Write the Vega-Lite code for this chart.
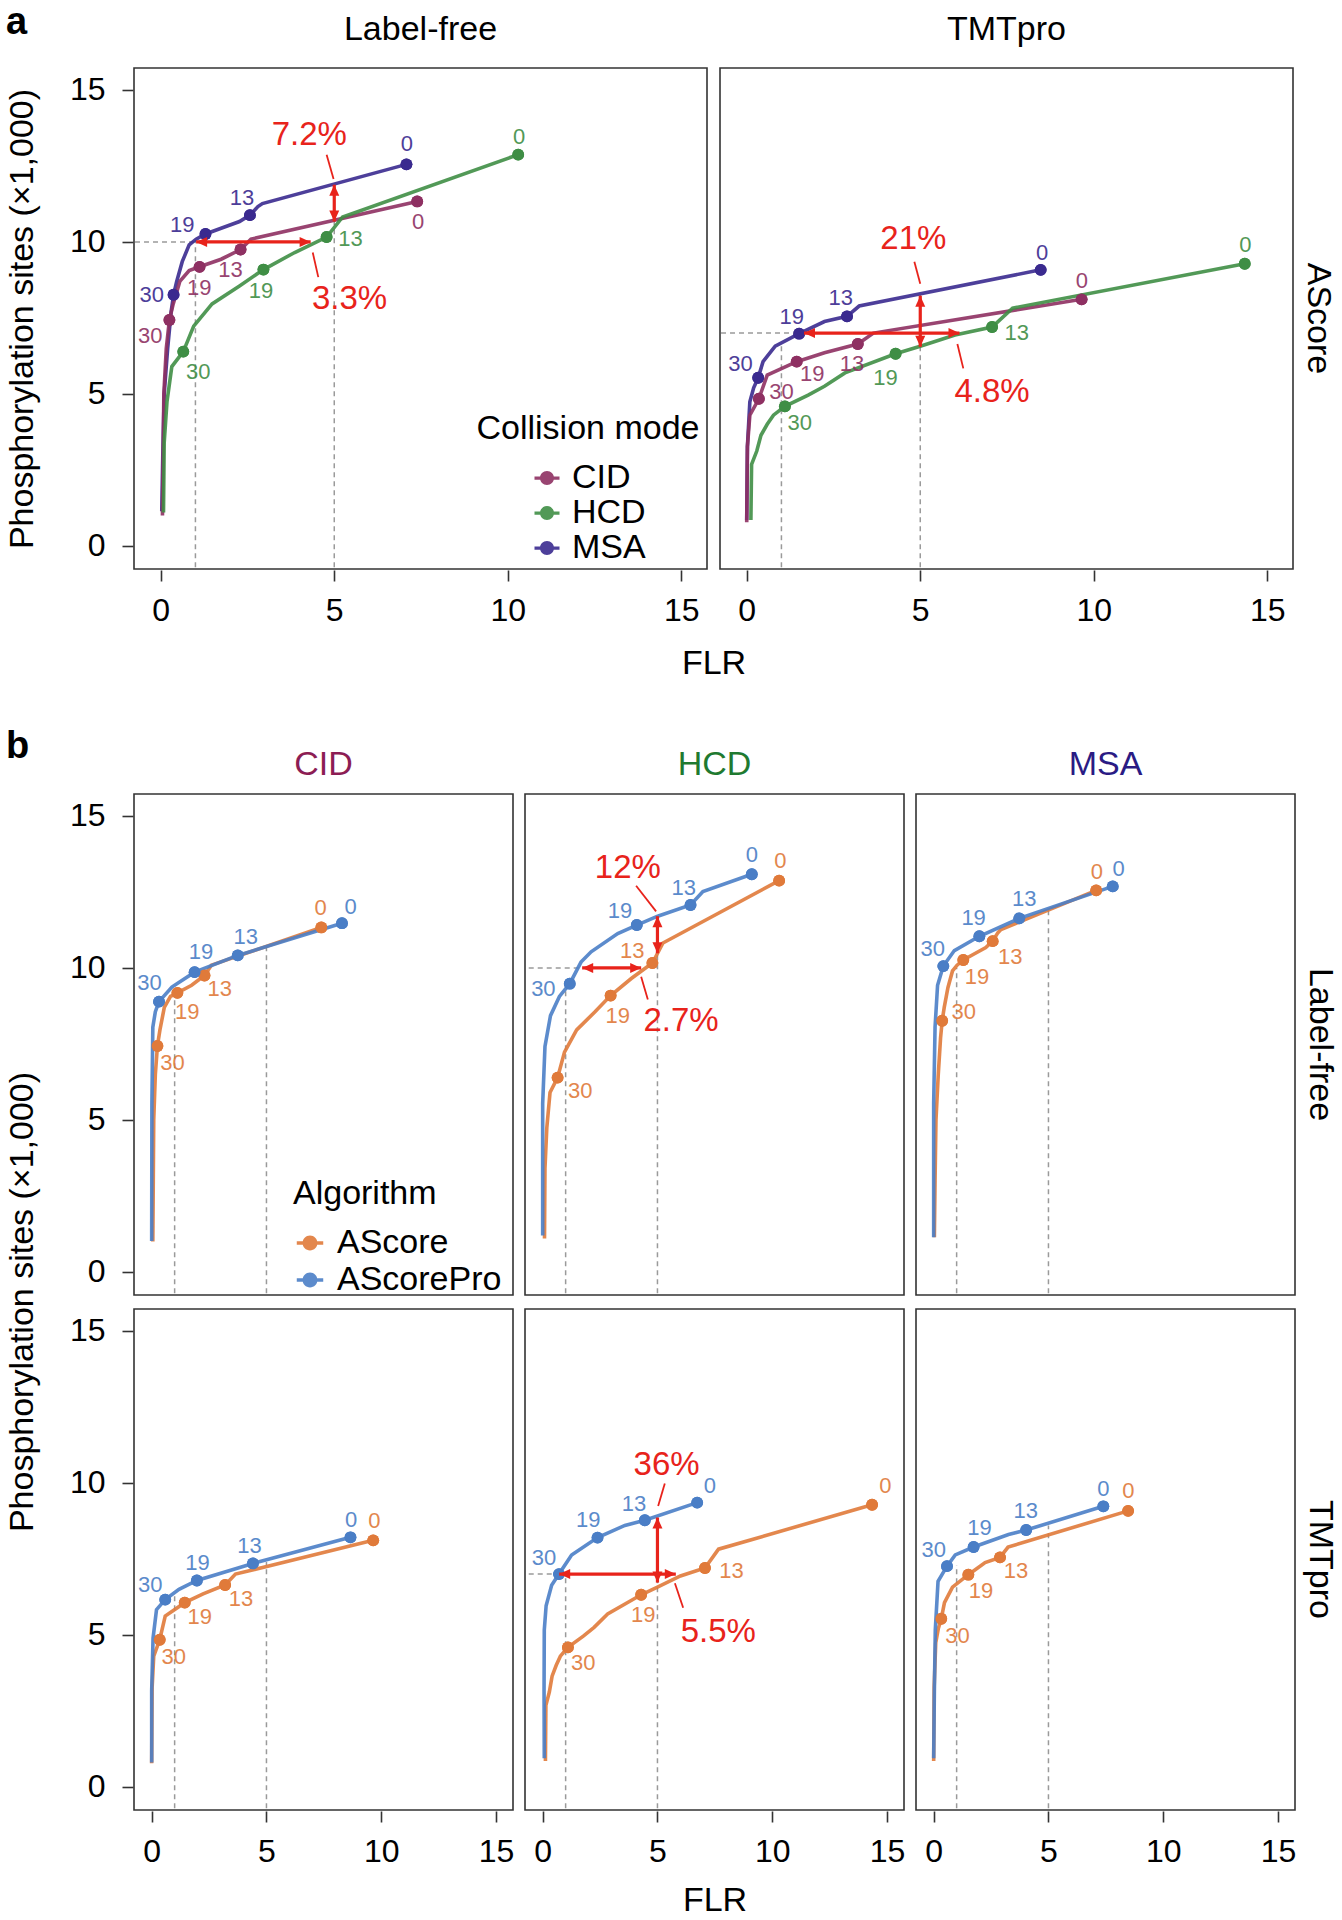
{
"$schema": "https://vega.github.io/schema/vega-lite/v6.json",
"padding": {"left": 5, "top": 4, "right": 0, "bottom": 0},
"config": {
  "font": "Liberation Sans",
  "view": {"stroke": "#333333", "strokeWidth": 1.6},
  "axis": {"grid": false, "domain": false, "tickColor": "#333333", "tickWidth": 1.6, "tickSize": 11, "labelFontSize": 32, "labelColor": "#000000", "labelFlush": false, "labelOverlap": false},
  "axisX": {"labelPadding": 14},
  "axisY": {"labelPadding": 17}
},
"datasets": {
"a": [
{"lab":"Label-free","mode":"MSA","alg":"AScore","k":"c","i":0,"x":0.03,"y":1.14},
{"lab":"Label-free","mode":"MSA","alg":"AScore","k":"c","i":1,"x":0.06,"y":3.0},
{"lab":"Label-free","mode":"MSA","alg":"AScore","k":"c","i":2,"x":0.1,"y":5.0},
{"lab":"Label-free","mode":"MSA","alg":"AScore","k":"c","i":3,"x":0.2,"y":6.5},
{"lab":"Label-free","mode":"MSA","alg":"AScore","k":"c","i":4,"x":0.3,"y":7.7},
{"lab":"Label-free","mode":"MSA","alg":"AScore","k":"c","i":5,"x":0.37,"y":8.26},
{"lab":"Label-free","mode":"MSA","alg":"AScore","k":"c","i":6,"x":0.46,"y":8.7},
{"lab":"Label-free","mode":"MSA","alg":"AScore","k":"c","i":7,"x":0.62,"y":9.35},
{"lab":"Label-free","mode":"MSA","alg":"AScore","k":"c","i":8,"x":0.82,"y":9.9},
{"lab":"Label-free","mode":"MSA","alg":"AScore","k":"c","i":9,"x":1.02,"y":10.09},
{"lab":"Label-free","mode":"MSA","alg":"AScore","k":"c","i":10,"x":1.29,"y":10.26},
{"lab":"Label-free","mode":"MSA","alg":"AScore","k":"c","i":11,"x":1.74,"y":10.45},
{"lab":"Label-free","mode":"MSA","alg":"AScore","k":"c","i":12,"x":2.27,"y":10.67},
{"lab":"Label-free","mode":"MSA","alg":"AScore","k":"c","i":13,"x":2.57,"y":10.88},
{"lab":"Label-free","mode":"MSA","alg":"AScore","k":"c","i":14,"x":2.8,"y":11.16},
{"lab":"Label-free","mode":"MSA","alg":"AScore","k":"c","i":15,"x":2.93,"y":11.26},
{"lab":"Label-free","mode":"MSA","alg":"AScore","k":"c","i":16,"x":7.08,"y":12.55},
{"lab":"Label-free","mode":"CID","alg":"AScore","k":"c","i":0,"x":0.05,"y":1.0},
{"lab":"Label-free","mode":"CID","alg":"AScore","k":"c","i":1,"x":0.07,"y":3.0},
{"lab":"Label-free","mode":"CID","alg":"AScore","k":"c","i":2,"x":0.09,"y":5.0},
{"lab":"Label-free","mode":"CID","alg":"AScore","k":"c","i":3,"x":0.16,"y":6.5},
{"lab":"Label-free","mode":"CID","alg":"AScore","k":"c","i":4,"x":0.25,"y":7.43},
{"lab":"Label-free","mode":"CID","alg":"AScore","k":"c","i":5,"x":0.36,"y":7.96},
{"lab":"Label-free","mode":"CID","alg":"AScore","k":"c","i":6,"x":0.55,"y":8.7},
{"lab":"Label-free","mode":"CID","alg":"AScore","k":"c","i":7,"x":0.82,"y":9.06},
{"lab":"Label-free","mode":"CID","alg":"AScore","k":"c","i":8,"x":1.12,"y":9.18},
{"lab":"Label-free","mode":"CID","alg":"AScore","k":"c","i":9,"x":1.74,"y":9.43},
{"lab":"Label-free","mode":"CID","alg":"AScore","k":"c","i":10,"x":2.3,"y":9.75},
{"lab":"Label-free","mode":"CID","alg":"AScore","k":"c","i":11,"x":2.6,"y":10.09},
{"lab":"Label-free","mode":"CID","alg":"AScore","k":"c","i":12,"x":7.39,"y":11.33},
{"lab":"Label-free","mode":"HCD","alg":"AScore","k":"c","i":0,"x":0.08,"y":1.1},
{"lab":"Label-free","mode":"HCD","alg":"AScore","k":"c","i":1,"x":0.1,"y":3.4},
{"lab":"Label-free","mode":"HCD","alg":"AScore","k":"c","i":2,"x":0.18,"y":4.74},
{"lab":"Label-free","mode":"HCD","alg":"AScore","k":"c","i":3,"x":0.32,"y":5.9},
{"lab":"Label-free","mode":"HCD","alg":"AScore","k":"c","i":4,"x":0.65,"y":6.39},
{"lab":"Label-free","mode":"HCD","alg":"AScore","k":"c","i":5,"x":0.95,"y":7.23},
{"lab":"Label-free","mode":"HCD","alg":"AScore","k":"c","i":6,"x":1.48,"y":7.96},
{"lab":"Label-free","mode":"HCD","alg":"AScore","k":"c","i":7,"x":2.27,"y":8.55},
{"lab":"Label-free","mode":"HCD","alg":"AScore","k":"c","i":8,"x":2.96,"y":9.09},
{"lab":"Label-free","mode":"HCD","alg":"AScore","k":"c","i":9,"x":3.86,"y":9.65},
{"lab":"Label-free","mode":"HCD","alg":"AScore","k":"c","i":10,"x":4.78,"y":10.16},
{"lab":"Label-free","mode":"HCD","alg":"AScore","k":"c","i":11,"x":5.24,"y":10.82},
{"lab":"Label-free","mode":"HCD","alg":"AScore","k":"c","i":12,"x":10.3,"y":12.87},
{"lab":"TMTpro","mode":"MSA","alg":"AScore","k":"c","i":0,"x":0.0,"y":0.85},
{"lab":"TMTpro","mode":"MSA","alg":"AScore","k":"c","i":1,"x":0.02,"y":3.27},
{"lab":"TMTpro","mode":"MSA","alg":"AScore","k":"c","i":2,"x":0.09,"y":4.74},
{"lab":"TMTpro","mode":"MSA","alg":"AScore","k":"c","i":3,"x":0.2,"y":5.2},
{"lab":"TMTpro","mode":"MSA","alg":"AScore","k":"c","i":4,"x":0.33,"y":5.53},
{"lab":"TMTpro","mode":"MSA","alg":"AScore","k":"c","i":5,"x":0.47,"y":6.06},
{"lab":"TMTpro","mode":"MSA","alg":"AScore","k":"c","i":6,"x":0.82,"y":6.57},
{"lab":"TMTpro","mode":"MSA","alg":"AScore","k":"c","i":7,"x":1.51,"y":6.98},
{"lab":"TMTpro","mode":"MSA","alg":"AScore","k":"c","i":8,"x":2.24,"y":7.38},
{"lab":"TMTpro","mode":"MSA","alg":"AScore","k":"c","i":9,"x":2.89,"y":7.55},
{"lab":"TMTpro","mode":"MSA","alg":"AScore","k":"c","i":10,"x":3.24,"y":7.89},
{"lab":"TMTpro","mode":"MSA","alg":"AScore","k":"c","i":11,"x":8.47,"y":9.08},
{"lab":"TMTpro","mode":"CID","alg":"AScore","k":"c","i":0,"x":0.0,"y":0.78},
{"lab":"TMTpro","mode":"CID","alg":"AScore","k":"c","i":1,"x":0.02,"y":3.27},
{"lab":"TMTpro","mode":"CID","alg":"AScore","k":"c","i":2,"x":0.09,"y":4.3},
{"lab":"TMTpro","mode":"CID","alg":"AScore","k":"c","i":3,"x":0.35,"y":4.84},
{"lab":"TMTpro","mode":"CID","alg":"AScore","k":"c","i":4,"x":0.59,"y":5.62},
{"lab":"TMTpro","mode":"CID","alg":"AScore","k":"c","i":5,"x":1.44,"y":6.06},
{"lab":"TMTpro","mode":"CID","alg":"AScore","k":"c","i":6,"x":2.24,"y":6.35},
{"lab":"TMTpro","mode":"CID","alg":"AScore","k":"c","i":7,"x":3.2,"y":6.64},
{"lab":"TMTpro","mode":"CID","alg":"AScore","k":"c","i":8,"x":3.65,"y":7.0},
{"lab":"TMTpro","mode":"CID","alg":"AScore","k":"c","i":9,"x":9.65,"y":8.11},
{"lab":"TMTpro","mode":"HCD","alg":"AScore","k":"c","i":0,"x":0.12,"y":0.85},
{"lab":"TMTpro","mode":"HCD","alg":"AScore","k":"c","i":1,"x":0.14,"y":2.68},
{"lab":"TMTpro","mode":"HCD","alg":"AScore","k":"c","i":2,"x":0.29,"y":3.12},
{"lab":"TMTpro","mode":"HCD","alg":"AScore","k":"c","i":3,"x":0.41,"y":3.64},
{"lab":"TMTpro","mode":"HCD","alg":"AScore","k":"c","i":4,"x":0.59,"y":4.0},
{"lab":"TMTpro","mode":"HCD","alg":"AScore","k":"c","i":5,"x":0.77,"y":4.3},
{"lab":"TMTpro","mode":"HCD","alg":"AScore","k":"c","i":6,"x":1.1,"y":4.59},
{"lab":"TMTpro","mode":"HCD","alg":"AScore","k":"c","i":7,"x":1.77,"y":4.96},
{"lab":"TMTpro","mode":"HCD","alg":"AScore","k":"c","i":8,"x":2.24,"y":5.25},
{"lab":"TMTpro","mode":"HCD","alg":"AScore","k":"c","i":9,"x":2.83,"y":5.69},
{"lab":"TMTpro","mode":"HCD","alg":"AScore","k":"c","i":10,"x":4.29,"y":6.32},
{"lab":"TMTpro","mode":"HCD","alg":"AScore","k":"c","i":11,"x":5.0,"y":6.57},
{"lab":"TMTpro","mode":"HCD","alg":"AScore","k":"c","i":12,"x":6.0,"y":6.94},
{"lab":"TMTpro","mode":"HCD","alg":"AScore","k":"c","i":13,"x":7.07,"y":7.2},
{"lab":"TMTpro","mode":"HCD","alg":"AScore","k":"c","i":14,"x":7.66,"y":7.82},
{"lab":"TMTpro","mode":"HCD","alg":"AScore","k":"c","i":15,"x":14.35,"y":9.28},
{"lab":"Label-free","mode":"MSA","alg":"AScore","k":"p","x":0.37,"y":8.26},
{"lab":"Label-free","mode":"MSA","alg":"AScore","k":"p","x":1.29,"y":10.26},
{"lab":"Label-free","mode":"MSA","alg":"AScore","k":"p","x":2.57,"y":10.88},
{"lab":"Label-free","mode":"MSA","alg":"AScore","k":"p","x":7.08,"y":12.55},
{"lab":"Label-free","mode":"CID","alg":"AScore","k":"p","x":0.25,"y":7.43},
{"lab":"Label-free","mode":"CID","alg":"AScore","k":"p","x":1.12,"y":9.18},
{"lab":"Label-free","mode":"CID","alg":"AScore","k":"p","x":2.3,"y":9.75},
{"lab":"Label-free","mode":"CID","alg":"AScore","k":"p","x":7.39,"y":11.33},
{"lab":"Label-free","mode":"HCD","alg":"AScore","k":"p","x":0.65,"y":6.39},
{"lab":"Label-free","mode":"HCD","alg":"AScore","k":"p","x":2.96,"y":9.09},
{"lab":"Label-free","mode":"HCD","alg":"AScore","k":"p","x":4.78,"y":10.16},
{"lab":"Label-free","mode":"HCD","alg":"AScore","k":"p","x":10.3,"y":12.87},
{"lab":"TMTpro","mode":"MSA","alg":"AScore","k":"p","x":0.33,"y":5.53},
{"lab":"TMTpro","mode":"MSA","alg":"AScore","k":"p","x":1.51,"y":6.98},
{"lab":"TMTpro","mode":"MSA","alg":"AScore","k":"p","x":2.89,"y":7.55},
{"lab":"TMTpro","mode":"MSA","alg":"AScore","k":"p","x":8.47,"y":9.08},
{"lab":"TMTpro","mode":"CID","alg":"AScore","k":"p","x":0.35,"y":4.84},
{"lab":"TMTpro","mode":"CID","alg":"AScore","k":"p","x":1.44,"y":6.06},
{"lab":"TMTpro","mode":"CID","alg":"AScore","k":"p","x":3.2,"y":6.64},
{"lab":"TMTpro","mode":"CID","alg":"AScore","k":"p","x":9.65,"y":8.11},
{"lab":"TMTpro","mode":"HCD","alg":"AScore","k":"p","x":1.1,"y":4.59},
{"lab":"TMTpro","mode":"HCD","alg":"AScore","k":"p","x":4.29,"y":6.32},
{"lab":"TMTpro","mode":"HCD","alg":"AScore","k":"p","x":7.07,"y":7.2},
{"lab":"TMTpro","mode":"HCD","alg":"AScore","k":"p","x":14.35,"y":9.28},
{"lab":"Label-free","mode":"MSA","alg":"AScore","k":"l","t":"0","x":7.09,"y":13.21},
{"lab":"Label-free","mode":"MSA","alg":"AScore","k":"l","t":"13","x":2.34,"y":11.44},
{"lab":"Label-free","mode":"MSA","alg":"AScore","k":"l","t":"19","x":0.62,"y":10.56},
{"lab":"Label-free","mode":"MSA","alg":"AScore","k":"l","t":"30","x":-0.26,"y":8.26},
{"lab":"Label-free","mode":"CID","alg":"AScore","k":"l","t":"0","x":7.42,"y":10.67},
{"lab":"Label-free","mode":"CID","alg":"AScore","k":"l","t":"13","x":2.01,"y":9.06},
{"lab":"Label-free","mode":"CID","alg":"AScore","k":"l","t":"19","x":1.11,"y":8.48},
{"lab":"Label-free","mode":"CID","alg":"AScore","k":"l","t":"30","x":-0.3,"y":6.91},
{"lab":"Label-free","mode":"HCD","alg":"AScore","k":"l","t":"0","x":10.33,"y":13.46},
{"lab":"Label-free","mode":"HCD","alg":"AScore","k":"l","t":"13","x":5.47,"y":10.09},
{"lab":"Label-free","mode":"HCD","alg":"AScore","k":"l","t":"19","x":2.89,"y":8.37},
{"lab":"Label-free","mode":"HCD","alg":"AScore","k":"l","t":"30","x":1.08,"y":5.73},
{"lab":"TMTpro","mode":"MSA","alg":"AScore","k":"l","t":"0","x":8.51,"y":9.65},
{"lab":"TMTpro","mode":"MSA","alg":"AScore","k":"l","t":"13","x":2.71,"y":8.14},
{"lab":"TMTpro","mode":"MSA","alg":"AScore","k":"l","t":"19","x":1.3,"y":7.52},
{"lab":"TMTpro","mode":"MSA","alg":"AScore","k":"l","t":"30","x":-0.18,"y":5.98},
{"lab":"TMTpro","mode":"CID","alg":"AScore","k":"l","t":"0","x":9.66,"y":8.7},
{"lab":"TMTpro","mode":"CID","alg":"AScore","k":"l","t":"13","x":3.03,"y":5.98},
{"lab":"TMTpro","mode":"CID","alg":"AScore","k":"l","t":"19","x":1.89,"y":5.65},
{"lab":"TMTpro","mode":"CID","alg":"AScore","k":"l","t":"30","x":1.0,"y":5.07},
{"lab":"TMTpro","mode":"HCD","alg":"AScore","k":"l","t":"0","x":14.37,"y":9.9},
{"lab":"TMTpro","mode":"HCD","alg":"AScore","k":"l","t":"13","x":7.78,"y":7.01},
{"lab":"TMTpro","mode":"HCD","alg":"AScore","k":"l","t":"19","x":4.0,"y":5.51},
{"lab":"TMTpro","mode":"HCD","alg":"AScore","k":"l","t":"30","x":1.53,"y":4.05},
{"lab":"Label-free","alg":"AScore","k":"g","x":1,"y":-1,"x2":1,"y2":10.05},
{"lab":"Label-free","alg":"AScore","k":"g","x":5,"y":-1,"x2":5,"y2":10.7},
{"lab":"Label-free","alg":"AScore","k":"g","x":-1,"y":10,"x2":1.0,"y2":10},
{"lab":"TMTpro","alg":"AScore","k":"g","x":1,"y":-1,"x2":1,"y2":6.6},
{"lab":"TMTpro","alg":"AScore","k":"g","x":5,"y":-1,"x2":5,"y2":8.26},
{"lab":"TMTpro","alg":"AScore","k":"g","x":-1,"y":7,"x2":1.5,"y2":7},
{"lab":"Label-free","alg":"AScore","k":"r","x":1.02,"y":10,"x2":4.32,"y2":10},
{"lab":"Label-free","alg":"AScore","k":"r","x":5,"y":10.67,"x2":5,"y2":11.88},
{"lab":"Label-free","alg":"AScore","k":"h","dir":"L","x":1.02,"y":10},
{"lab":"Label-free","alg":"AScore","k":"h","dir":"R","x":4.32,"y":10},
{"lab":"Label-free","alg":"AScore","k":"h","dir":"D","x":5,"y":10.67},
{"lab":"Label-free","alg":"AScore","k":"h","dir":"U","x":5,"y":11.88},
{"lab":"Label-free","alg":"AScore","k":"d","x":4.78,"y":12.87,"x2":4.98,"y2":12.07},
{"lab":"Label-free","alg":"AScore","k":"d","x":4.38,"y":9.65,"x2":4.54,"y2":8.84},
{"lab":"Label-free","alg":"AScore","k":"t","t":"7.2%","x":4.28,"y":13.53},
{"lab":"Label-free","alg":"AScore","k":"t","t":"3.3%","x":5.44,"y":8.11},
{"lab":"TMTpro","alg":"AScore","k":"r","x":1.65,"y":7,"x2":6.13,"y2":7},
{"lab":"TMTpro","alg":"AScore","k":"r","x":5,"y":6.55,"x2":5,"y2":8.23},
{"lab":"TMTpro","alg":"AScore","k":"h","dir":"L","x":1.65,"y":7},
{"lab":"TMTpro","alg":"AScore","k":"h","dir":"R","x":6.13,"y":7},
{"lab":"TMTpro","alg":"AScore","k":"h","dir":"D","x":5,"y":6.55},
{"lab":"TMTpro","alg":"AScore","k":"h","dir":"U","x":5,"y":8.23},
{"lab":"TMTpro","alg":"AScore","k":"d","x":4.83,"y":9.35,"x2":5.0,"y2":8.62},
{"lab":"TMTpro","alg":"AScore","k":"d","x":6.07,"y":6.64,"x2":6.24,"y2":5.84},
{"lab":"TMTpro","alg":"AScore","k":"t","t":"21%","x":4.8,"y":10.09},
{"lab":"TMTpro","alg":"AScore","k":"t","t":"4.8%","x":7.07,"y":5.06}
],
"b": [
{"lab":"Label-free","mode":"MSA","alg":"AScore","k":"c","i":0,"x":0.03,"y":1.14},
{"lab":"Label-free","mode":"MSA","alg":"AScore","k":"c","i":1,"x":0.06,"y":3.0},
{"lab":"Label-free","mode":"MSA","alg":"AScore","k":"c","i":2,"x":0.1,"y":5.0},
{"lab":"Label-free","mode":"MSA","alg":"AScore","k":"c","i":3,"x":0.2,"y":6.5},
{"lab":"Label-free","mode":"MSA","alg":"AScore","k":"c","i":4,"x":0.3,"y":7.7},
{"lab":"Label-free","mode":"MSA","alg":"AScore","k":"c","i":5,"x":0.37,"y":8.26},
{"lab":"Label-free","mode":"MSA","alg":"AScore","k":"c","i":6,"x":0.46,"y":8.7},
{"lab":"Label-free","mode":"MSA","alg":"AScore","k":"c","i":7,"x":0.62,"y":9.35},
{"lab":"Label-free","mode":"MSA","alg":"AScore","k":"c","i":8,"x":0.82,"y":9.9},
{"lab":"Label-free","mode":"MSA","alg":"AScore","k":"c","i":9,"x":1.02,"y":10.09},
{"lab":"Label-free","mode":"MSA","alg":"AScore","k":"c","i":10,"x":1.29,"y":10.26},
{"lab":"Label-free","mode":"MSA","alg":"AScore","k":"c","i":11,"x":1.74,"y":10.45},
{"lab":"Label-free","mode":"MSA","alg":"AScore","k":"c","i":12,"x":2.27,"y":10.67},
{"lab":"Label-free","mode":"MSA","alg":"AScore","k":"c","i":13,"x":2.57,"y":10.88},
{"lab":"Label-free","mode":"MSA","alg":"AScore","k":"c","i":14,"x":2.8,"y":11.16},
{"lab":"Label-free","mode":"MSA","alg":"AScore","k":"c","i":15,"x":2.93,"y":11.26},
{"lab":"Label-free","mode":"MSA","alg":"AScore","k":"c","i":16,"x":7.08,"y":12.55},
{"lab":"Label-free","mode":"CID","alg":"AScore","k":"c","i":0,"x":0.05,"y":1.0},
{"lab":"Label-free","mode":"CID","alg":"AScore","k":"c","i":1,"x":0.07,"y":3.0},
{"lab":"Label-free","mode":"CID","alg":"AScore","k":"c","i":2,"x":0.09,"y":5.0},
{"lab":"Label-free","mode":"CID","alg":"AScore","k":"c","i":3,"x":0.16,"y":6.5},
{"lab":"Label-free","mode":"CID","alg":"AScore","k":"c","i":4,"x":0.25,"y":7.43},
{"lab":"Label-free","mode":"CID","alg":"AScore","k":"c","i":5,"x":0.36,"y":7.96},
{"lab":"Label-free","mode":"CID","alg":"AScore","k":"c","i":6,"x":0.55,"y":8.7},
{"lab":"Label-free","mode":"CID","alg":"AScore","k":"c","i":7,"x":0.82,"y":9.06},
{"lab":"Label-free","mode":"CID","alg":"AScore","k":"c","i":8,"x":1.12,"y":9.18},
{"lab":"Label-free","mode":"CID","alg":"AScore","k":"c","i":9,"x":1.74,"y":9.43},
{"lab":"Label-free","mode":"CID","alg":"AScore","k":"c","i":10,"x":2.3,"y":9.75},
{"lab":"Label-free","mode":"CID","alg":"AScore","k":"c","i":11,"x":2.6,"y":10.09},
{"lab":"Label-free","mode":"CID","alg":"AScore","k":"c","i":12,"x":7.39,"y":11.33},
{"lab":"Label-free","mode":"HCD","alg":"AScore","k":"c","i":0,"x":0.08,"y":1.1},
{"lab":"Label-free","mode":"HCD","alg":"AScore","k":"c","i":1,"x":0.1,"y":3.4},
{"lab":"Label-free","mode":"HCD","alg":"AScore","k":"c","i":2,"x":0.18,"y":4.74},
{"lab":"Label-free","mode":"HCD","alg":"AScore","k":"c","i":3,"x":0.32,"y":5.9},
{"lab":"Label-free","mode":"HCD","alg":"AScore","k":"c","i":4,"x":0.65,"y":6.39},
{"lab":"Label-free","mode":"HCD","alg":"AScore","k":"c","i":5,"x":0.95,"y":7.23},
{"lab":"Label-free","mode":"HCD","alg":"AScore","k":"c","i":6,"x":1.48,"y":7.96},
{"lab":"Label-free","mode":"HCD","alg":"AScore","k":"c","i":7,"x":2.27,"y":8.55},
{"lab":"Label-free","mode":"HCD","alg":"AScore","k":"c","i":8,"x":2.96,"y":9.09},
{"lab":"Label-free","mode":"HCD","alg":"AScore","k":"c","i":9,"x":3.86,"y":9.65},
{"lab":"Label-free","mode":"HCD","alg":"AScore","k":"c","i":10,"x":4.78,"y":10.16},
{"lab":"Label-free","mode":"HCD","alg":"AScore","k":"c","i":11,"x":5.24,"y":10.82},
{"lab":"Label-free","mode":"HCD","alg":"AScore","k":"c","i":12,"x":10.3,"y":12.87},
{"lab":"TMTpro","mode":"MSA","alg":"AScore","k":"c","i":0,"x":0.0,"y":0.85},
{"lab":"TMTpro","mode":"MSA","alg":"AScore","k":"c","i":1,"x":0.02,"y":3.27},
{"lab":"TMTpro","mode":"MSA","alg":"AScore","k":"c","i":2,"x":0.09,"y":4.74},
{"lab":"TMTpro","mode":"MSA","alg":"AScore","k":"c","i":3,"x":0.2,"y":5.2},
{"lab":"TMTpro","mode":"MSA","alg":"AScore","k":"c","i":4,"x":0.33,"y":5.53},
{"lab":"TMTpro","mode":"MSA","alg":"AScore","k":"c","i":5,"x":0.47,"y":6.06},
{"lab":"TMTpro","mode":"MSA","alg":"AScore","k":"c","i":6,"x":0.82,"y":6.57},
{"lab":"TMTpro","mode":"MSA","alg":"AScore","k":"c","i":7,"x":1.51,"y":6.98},
{"lab":"TMTpro","mode":"MSA","alg":"AScore","k":"c","i":8,"x":2.24,"y":7.38},
{"lab":"TMTpro","mode":"MSA","alg":"AScore","k":"c","i":9,"x":2.89,"y":7.55},
{"lab":"TMTpro","mode":"MSA","alg":"AScore","k":"c","i":10,"x":3.24,"y":7.89},
{"lab":"TMTpro","mode":"MSA","alg":"AScore","k":"c","i":11,"x":8.47,"y":9.08},
{"lab":"TMTpro","mode":"CID","alg":"AScore","k":"c","i":0,"x":0.0,"y":0.78},
{"lab":"TMTpro","mode":"CID","alg":"AScore","k":"c","i":1,"x":0.02,"y":3.27},
{"lab":"TMTpro","mode":"CID","alg":"AScore","k":"c","i":2,"x":0.09,"y":4.3},
{"lab":"TMTpro","mode":"CID","alg":"AScore","k":"c","i":3,"x":0.35,"y":4.84},
{"lab":"TMTpro","mode":"CID","alg":"AScore","k":"c","i":4,"x":0.59,"y":5.62},
{"lab":"TMTpro","mode":"CID","alg":"AScore","k":"c","i":5,"x":1.44,"y":6.06},
{"lab":"TMTpro","mode":"CID","alg":"AScore","k":"c","i":6,"x":2.24,"y":6.35},
{"lab":"TMTpro","mode":"CID","alg":"AScore","k":"c","i":7,"x":3.2,"y":6.64},
{"lab":"TMTpro","mode":"CID","alg":"AScore","k":"c","i":8,"x":3.65,"y":7.0},
{"lab":"TMTpro","mode":"CID","alg":"AScore","k":"c","i":9,"x":9.65,"y":8.11},
{"lab":"TMTpro","mode":"HCD","alg":"AScore","k":"c","i":0,"x":0.12,"y":0.85},
{"lab":"TMTpro","mode":"HCD","alg":"AScore","k":"c","i":1,"x":0.14,"y":2.68},
{"lab":"TMTpro","mode":"HCD","alg":"AScore","k":"c","i":2,"x":0.29,"y":3.12},
{"lab":"TMTpro","mode":"HCD","alg":"AScore","k":"c","i":3,"x":0.41,"y":3.64},
{"lab":"TMTpro","mode":"HCD","alg":"AScore","k":"c","i":4,"x":0.59,"y":4.0},
{"lab":"TMTpro","mode":"HCD","alg":"AScore","k":"c","i":5,"x":0.77,"y":4.3},
{"lab":"TMTpro","mode":"HCD","alg":"AScore","k":"c","i":6,"x":1.1,"y":4.59},
{"lab":"TMTpro","mode":"HCD","alg":"AScore","k":"c","i":7,"x":1.77,"y":4.96},
{"lab":"TMTpro","mode":"HCD","alg":"AScore","k":"c","i":8,"x":2.24,"y":5.25},
{"lab":"TMTpro","mode":"HCD","alg":"AScore","k":"c","i":9,"x":2.83,"y":5.69},
{"lab":"TMTpro","mode":"HCD","alg":"AScore","k":"c","i":10,"x":4.29,"y":6.32},
{"lab":"TMTpro","mode":"HCD","alg":"AScore","k":"c","i":11,"x":5.0,"y":6.57},
{"lab":"TMTpro","mode":"HCD","alg":"AScore","k":"c","i":12,"x":6.0,"y":6.94},
{"lab":"TMTpro","mode":"HCD","alg":"AScore","k":"c","i":13,"x":7.07,"y":7.2},
{"lab":"TMTpro","mode":"HCD","alg":"AScore","k":"c","i":14,"x":7.66,"y":7.82},
{"lab":"TMTpro","mode":"HCD","alg":"AScore","k":"c","i":15,"x":14.35,"y":9.28},
{"lab":"Label-free","mode":"CID","alg":"AScorePro","k":"c","i":0,"x":0.0,"y":1.02},
{"lab":"Label-free","mode":"CID","alg":"AScorePro","k":"c","i":1,"x":0.01,"y":5.54},
{"lab":"Label-free","mode":"CID","alg":"AScorePro","k":"c","i":2,"x":0.05,"y":8.05},
{"lab":"Label-free","mode":"CID","alg":"AScorePro","k":"c","i":3,"x":0.16,"y":8.56},
{"lab":"Label-free","mode":"CID","alg":"AScorePro","k":"c","i":4,"x":0.32,"y":8.89},
{"lab":"Label-free","mode":"CID","alg":"AScorePro","k":"c","i":5,"x":0.88,"y":9.37},
{"lab":"Label-free","mode":"CID","alg":"AScorePro","k":"c","i":6,"x":1.87,"y":9.86},
{"lab":"Label-free","mode":"CID","alg":"AScorePro","k":"c","i":7,"x":3.75,"y":10.41},
{"lab":"Label-free","mode":"CID","alg":"AScorePro","k":"c","i":8,"x":8.29,"y":11.47},
{"lab":"Label-free","mode":"HCD","alg":"AScorePro","k":"c","i":0,"x":0.0,"y":1.2},
{"lab":"Label-free","mode":"HCD","alg":"AScorePro","k":"c","i":1,"x":0.0,"y":5.54},
{"lab":"Label-free","mode":"HCD","alg":"AScorePro","k":"c","i":2,"x":0.1,"y":7.42},
{"lab":"Label-free","mode":"HCD","alg":"AScorePro","k":"c","i":3,"x":0.34,"y":8.43},
{"lab":"Label-free","mode":"HCD","alg":"AScorePro","k":"c","i":4,"x":0.73,"y":9.06},
{"lab":"Label-free","mode":"HCD","alg":"AScorePro","k":"c","i":5,"x":1.18,"y":9.48},
{"lab":"Label-free","mode":"HCD","alg":"AScorePro","k":"c","i":6,"x":1.67,"y":10.19},
{"lab":"Label-free","mode":"HCD","alg":"AScorePro","k":"c","i":7,"x":2.11,"y":10.53},
{"lab":"Label-free","mode":"HCD","alg":"AScorePro","k":"c","i":8,"x":3.27,"y":11.13},
{"lab":"Label-free","mode":"HCD","alg":"AScorePro","k":"c","i":9,"x":4.1,"y":11.41},
{"lab":"Label-free","mode":"HCD","alg":"AScorePro","k":"c","i":10,"x":5.01,"y":11.7},
{"lab":"Label-free","mode":"HCD","alg":"AScorePro","k":"c","i":11,"x":6.44,"y":12.07},
{"lab":"Label-free","mode":"HCD","alg":"AScorePro","k":"c","i":12,"x":6.98,"y":12.51},
{"lab":"Label-free","mode":"HCD","alg":"AScorePro","k":"c","i":13,"x":9.11,"y":13.08},
{"lab":"Label-free","mode":"MSA","alg":"AScorePro","k":"c","i":0,"x":0.0,"y":1.14},
{"lab":"Label-free","mode":"MSA","alg":"AScorePro","k":"c","i":1,"x":0.0,"y":5.54},
{"lab":"Label-free","mode":"MSA","alg":"AScorePro","k":"c","i":2,"x":0.06,"y":8.05},
{"lab":"Label-free","mode":"MSA","alg":"AScorePro","k":"c","i":3,"x":0.17,"y":9.43},
{"lab":"Label-free","mode":"MSA","alg":"AScorePro","k":"c","i":4,"x":0.42,"y":10.06},
{"lab":"Label-free","mode":"MSA","alg":"AScorePro","k":"c","i":5,"x":0.9,"y":10.57},
{"lab":"Label-free","mode":"MSA","alg":"AScorePro","k":"c","i":6,"x":1.99,"y":11.04},
{"lab":"Label-free","mode":"MSA","alg":"AScorePro","k":"c","i":7,"x":3.73,"y":11.63},
{"lab":"Label-free","mode":"MSA","alg":"AScorePro","k":"c","i":8,"x":7.8,"y":12.68},
{"lab":"TMTpro","mode":"CID","alg":"AScorePro","k":"c","i":0,"x":0.0,"y":0.8},
{"lab":"TMTpro","mode":"CID","alg":"AScorePro","k":"c","i":1,"x":0.0,"y":3.15},
{"lab":"TMTpro","mode":"CID","alg":"AScorePro","k":"c","i":2,"x":0.06,"y":4.89},
{"lab":"TMTpro","mode":"CID","alg":"AScorePro","k":"c","i":3,"x":0.21,"y":5.83},
{"lab":"TMTpro","mode":"CID","alg":"AScorePro","k":"c","i":4,"x":0.59,"y":6.16},
{"lab":"TMTpro","mode":"CID","alg":"AScorePro","k":"c","i":5,"x":1.19,"y":6.5},
{"lab":"TMTpro","mode":"CID","alg":"AScorePro","k":"c","i":6,"x":1.97,"y":6.79},
{"lab":"TMTpro","mode":"CID","alg":"AScorePro","k":"c","i":7,"x":4.41,"y":7.35},
{"lab":"TMTpro","mode":"CID","alg":"AScorePro","k":"c","i":8,"x":8.66,"y":8.21},
{"lab":"TMTpro","mode":"HCD","alg":"AScorePro","k":"c","i":0,"x":0.07,"y":0.94},
{"lab":"TMTpro","mode":"HCD","alg":"AScorePro","k":"c","i":1,"x":0.06,"y":3.15},
{"lab":"TMTpro","mode":"HCD","alg":"AScorePro","k":"c","i":2,"x":0.07,"y":5.16},
{"lab":"TMTpro","mode":"HCD","alg":"AScorePro","k":"c","i":3,"x":0.15,"y":5.96},
{"lab":"TMTpro","mode":"HCD","alg":"AScorePro","k":"c","i":4,"x":0.39,"y":6.63},
{"lab":"TMTpro","mode":"HCD","alg":"AScorePro","k":"c","i":5,"x":0.71,"y":7.0},
{"lab":"TMTpro","mode":"HCD","alg":"AScorePro","k":"c","i":6,"x":1.26,"y":7.63},
{"lab":"TMTpro","mode":"HCD","alg":"AScorePro","k":"c","i":7,"x":2.39,"y":8.2},
{"lab":"TMTpro","mode":"HCD","alg":"AScorePro","k":"c","i":8,"x":3.58,"y":8.6},
{"lab":"TMTpro","mode":"HCD","alg":"AScorePro","k":"c","i":9,"x":4.45,"y":8.77},
{"lab":"TMTpro","mode":"HCD","alg":"AScorePro","k":"c","i":10,"x":6.73,"y":9.35},
{"lab":"TMTpro","mode":"MSA","alg":"AScorePro","k":"c","i":0,"x":0.0,"y":0.94},
{"lab":"TMTpro","mode":"MSA","alg":"AScorePro","k":"c","i":1,"x":0.03,"y":3.15},
{"lab":"TMTpro","mode":"MSA","alg":"AScorePro","k":"c","i":2,"x":0.07,"y":5.16},
{"lab":"TMTpro","mode":"MSA","alg":"AScorePro","k":"c","i":3,"x":0.19,"y":6.76},
{"lab":"TMTpro","mode":"MSA","alg":"AScorePro","k":"c","i":4,"x":0.58,"y":7.26},
{"lab":"TMTpro","mode":"MSA","alg":"AScorePro","k":"c","i":5,"x":0.94,"y":7.63},
{"lab":"TMTpro","mode":"MSA","alg":"AScorePro","k":"c","i":6,"x":1.74,"y":7.89},
{"lab":"TMTpro","mode":"MSA","alg":"AScorePro","k":"c","i":7,"x":3.26,"y":8.3},
{"lab":"TMTpro","mode":"MSA","alg":"AScorePro","k":"c","i":8,"x":4.03,"y":8.45},
{"lab":"TMTpro","mode":"MSA","alg":"AScorePro","k":"c","i":9,"x":7.39,"y":9.23},
{"lab":"Label-free","mode":"MSA","alg":"AScore","k":"p","x":0.37,"y":8.26},
{"lab":"Label-free","mode":"MSA","alg":"AScore","k":"p","x":1.29,"y":10.26},
{"lab":"Label-free","mode":"MSA","alg":"AScore","k":"p","x":2.57,"y":10.88},
{"lab":"Label-free","mode":"MSA","alg":"AScore","k":"p","x":7.08,"y":12.55},
{"lab":"Label-free","mode":"CID","alg":"AScore","k":"p","x":0.25,"y":7.43},
{"lab":"Label-free","mode":"CID","alg":"AScore","k":"p","x":1.12,"y":9.18},
{"lab":"Label-free","mode":"CID","alg":"AScore","k":"p","x":2.3,"y":9.75},
{"lab":"Label-free","mode":"CID","alg":"AScore","k":"p","x":7.39,"y":11.33},
{"lab":"Label-free","mode":"HCD","alg":"AScore","k":"p","x":0.65,"y":6.39},
{"lab":"Label-free","mode":"HCD","alg":"AScore","k":"p","x":2.96,"y":9.09},
{"lab":"Label-free","mode":"HCD","alg":"AScore","k":"p","x":4.78,"y":10.16},
{"lab":"Label-free","mode":"HCD","alg":"AScore","k":"p","x":10.3,"y":12.87},
{"lab":"TMTpro","mode":"MSA","alg":"AScore","k":"p","x":0.33,"y":5.53},
{"lab":"TMTpro","mode":"MSA","alg":"AScore","k":"p","x":1.51,"y":6.98},
{"lab":"TMTpro","mode":"MSA","alg":"AScore","k":"p","x":2.89,"y":7.55},
{"lab":"TMTpro","mode":"MSA","alg":"AScore","k":"p","x":8.47,"y":9.08},
{"lab":"TMTpro","mode":"CID","alg":"AScore","k":"p","x":0.35,"y":4.84},
{"lab":"TMTpro","mode":"CID","alg":"AScore","k":"p","x":1.44,"y":6.06},
{"lab":"TMTpro","mode":"CID","alg":"AScore","k":"p","x":3.2,"y":6.64},
{"lab":"TMTpro","mode":"CID","alg":"AScore","k":"p","x":9.65,"y":8.11},
{"lab":"TMTpro","mode":"HCD","alg":"AScore","k":"p","x":1.1,"y":4.59},
{"lab":"TMTpro","mode":"HCD","alg":"AScore","k":"p","x":4.29,"y":6.32},
{"lab":"TMTpro","mode":"HCD","alg":"AScore","k":"p","x":7.07,"y":7.2},
{"lab":"TMTpro","mode":"HCD","alg":"AScore","k":"p","x":14.35,"y":9.28},
{"lab":"Label-free","mode":"CID","alg":"AScorePro","k":"p","x":0.32,"y":8.89},
{"lab":"Label-free","mode":"CID","alg":"AScorePro","k":"p","x":1.87,"y":9.86},
{"lab":"Label-free","mode":"CID","alg":"AScorePro","k":"p","x":3.75,"y":10.41},
{"lab":"Label-free","mode":"CID","alg":"AScorePro","k":"p","x":8.29,"y":11.47},
{"lab":"Label-free","mode":"HCD","alg":"AScorePro","k":"p","x":1.18,"y":9.48},
{"lab":"Label-free","mode":"HCD","alg":"AScorePro","k":"p","x":4.1,"y":11.41},
{"lab":"Label-free","mode":"HCD","alg":"AScorePro","k":"p","x":6.44,"y":12.07},
{"lab":"Label-free","mode":"HCD","alg":"AScorePro","k":"p","x":9.11,"y":13.08},
{"lab":"Label-free","mode":"MSA","alg":"AScorePro","k":"p","x":0.42,"y":10.06},
{"lab":"Label-free","mode":"MSA","alg":"AScorePro","k":"p","x":1.99,"y":11.04},
{"lab":"Label-free","mode":"MSA","alg":"AScorePro","k":"p","x":3.73,"y":11.63},
{"lab":"Label-free","mode":"MSA","alg":"AScorePro","k":"p","x":7.8,"y":12.68},
{"lab":"TMTpro","mode":"CID","alg":"AScorePro","k":"p","x":0.59,"y":6.16},
{"lab":"TMTpro","mode":"CID","alg":"AScorePro","k":"p","x":1.97,"y":6.79},
{"lab":"TMTpro","mode":"CID","alg":"AScorePro","k":"p","x":4.41,"y":7.35},
{"lab":"TMTpro","mode":"CID","alg":"AScorePro","k":"p","x":8.66,"y":8.21},
{"lab":"TMTpro","mode":"HCD","alg":"AScorePro","k":"p","x":0.71,"y":7.0},
{"lab":"TMTpro","mode":"HCD","alg":"AScorePro","k":"p","x":2.39,"y":8.2},
{"lab":"TMTpro","mode":"HCD","alg":"AScorePro","k":"p","x":4.45,"y":8.77},
{"lab":"TMTpro","mode":"HCD","alg":"AScorePro","k":"p","x":6.73,"y":9.35},
{"lab":"TMTpro","mode":"MSA","alg":"AScorePro","k":"p","x":0.58,"y":7.26},
{"lab":"TMTpro","mode":"MSA","alg":"AScorePro","k":"p","x":1.74,"y":7.89},
{"lab":"TMTpro","mode":"MSA","alg":"AScorePro","k":"p","x":4.03,"y":8.45},
{"lab":"TMTpro","mode":"MSA","alg":"AScorePro","k":"p","x":7.39,"y":9.23},
{"lab":"Label-free","mode":"CID","alg":"AScorePro","k":"l","t":"0","x":8.67,"y":12.01},
{"lab":"Label-free","mode":"CID","alg":"AScorePro","k":"l","t":"13","x":4.1,"y":11.03},
{"lab":"Label-free","mode":"CID","alg":"AScorePro","k":"l","t":"19","x":2.15,"y":10.53},
{"lab":"Label-free","mode":"CID","alg":"AScorePro","k":"l","t":"30","x":-0.1,"y":9.5},
{"lab":"Label-free","mode":"CID","alg":"AScore","k":"l","t":"0","x":7.36,"y":11.97},
{"lab":"Label-free","mode":"CID","alg":"AScore","k":"l","t":"13","x":2.97,"y":9.31},
{"lab":"Label-free","mode":"CID","alg":"AScore","k":"l","t":"19","x":1.55,"y":8.56},
{"lab":"Label-free","mode":"CID","alg":"AScore","k":"l","t":"30","x":0.91,"y":6.88},
{"lab":"Label-free","mode":"HCD","alg":"AScorePro","k":"l","t":"0","x":9.11,"y":13.71},
{"lab":"Label-free","mode":"HCD","alg":"AScorePro","k":"l","t":"13","x":6.15,"y":12.64},
{"lab":"Label-free","mode":"HCD","alg":"AScorePro","k":"l","t":"19","x":3.37,"y":11.86},
{"lab":"Label-free","mode":"HCD","alg":"AScorePro","k":"l","t":"30","x":0.03,"y":9.31},
{"lab":"Label-free","mode":"HCD","alg":"AScore","k":"l","t":"0","x":10.36,"y":13.52},
{"lab":"Label-free","mode":"HCD","alg":"AScore","k":"l","t":"13","x":3.9,"y":10.57},
{"lab":"Label-free","mode":"HCD","alg":"AScore","k":"l","t":"19","x":3.27,"y":8.43},
{"lab":"Label-free","mode":"HCD","alg":"AScore","k":"l","t":"30","x":1.64,"y":5.94},
{"lab":"Label-free","mode":"MSA","alg":"AScorePro","k":"l","t":"0","x":8.06,"y":13.24},
{"lab":"Label-free","mode":"MSA","alg":"AScorePro","k":"l","t":"13","x":3.95,"y":12.26},
{"lab":"Label-free","mode":"MSA","alg":"AScorePro","k":"l","t":"19","x":1.74,"y":11.63},
{"lab":"Label-free","mode":"MSA","alg":"AScorePro","k":"l","t":"30","x":-0.04,"y":10.63},
{"lab":"Label-free","mode":"MSA","alg":"AScore","k":"l","t":"0","x":7.11,"y":13.17},
{"lab":"Label-free","mode":"MSA","alg":"AScore","k":"l","t":"13","x":3.34,"y":10.35},
{"lab":"Label-free","mode":"MSA","alg":"AScore","k":"l","t":"19","x":1.89,"y":9.69},
{"lab":"Label-free","mode":"MSA","alg":"AScore","k":"l","t":"30","x":1.31,"y":8.56},
{"lab":"TMTpro","mode":"CID","alg":"AScorePro","k":"l","t":"0","x":8.69,"y":8.77},
{"lab":"TMTpro","mode":"CID","alg":"AScorePro","k":"l","t":"13","x":4.26,"y":7.94},
{"lab":"TMTpro","mode":"CID","alg":"AScorePro","k":"l","t":"19","x":2.0,"y":7.35},
{"lab":"TMTpro","mode":"CID","alg":"AScorePro","k":"l","t":"30","x":-0.06,"y":6.63},
{"lab":"TMTpro","mode":"CID","alg":"AScore","k":"l","t":"0","x":9.7,"y":8.73},
{"lab":"TMTpro","mode":"CID","alg":"AScore","k":"l","t":"13","x":3.89,"y":6.19},
{"lab":"TMTpro","mode":"CID","alg":"AScore","k":"l","t":"19","x":2.09,"y":5.6},
{"lab":"TMTpro","mode":"CID","alg":"AScore","k":"l","t":"30","x":0.96,"y":4.26},
{"lab":"TMTpro","mode":"HCD","alg":"AScorePro","k":"l","t":"0","x":7.28,"y":9.91},
{"lab":"TMTpro","mode":"HCD","alg":"AScorePro","k":"l","t":"13","x":3.98,"y":9.31},
{"lab":"TMTpro","mode":"HCD","alg":"AScorePro","k":"l","t":"19","x":1.99,"y":8.77},
{"lab":"TMTpro","mode":"HCD","alg":"AScorePro","k":"l","t":"30","x":0.06,"y":7.53},
{"lab":"TMTpro","mode":"HCD","alg":"AScore","k":"l","t":"0","x":14.93,"y":9.91},
{"lab":"TMTpro","mode":"HCD","alg":"AScore","k":"l","t":"13","x":8.23,"y":7.1},
{"lab":"TMTpro","mode":"HCD","alg":"AScore","k":"l","t":"19","x":4.38,"y":5.65},
{"lab":"TMTpro","mode":"HCD","alg":"AScore","k":"l","t":"30","x":1.77,"y":4.06},
{"lab":"TMTpro","mode":"MSA","alg":"AScorePro","k":"l","t":"0","x":7.39,"y":9.8},
{"lab":"TMTpro","mode":"MSA","alg":"AScorePro","k":"l","t":"13","x":4.01,"y":9.07},
{"lab":"TMTpro","mode":"MSA","alg":"AScorePro","k":"l","t":"19","x":2.0,"y":8.5},
{"lab":"TMTpro","mode":"MSA","alg":"AScorePro","k":"l","t":"30","x":0.0,"y":7.79},
{"lab":"TMTpro","mode":"MSA","alg":"AScore","k":"l","t":"0","x":8.48,"y":9.74},
{"lab":"TMTpro","mode":"MSA","alg":"AScore","k":"l","t":"13","x":3.59,"y":7.1},
{"lab":"TMTpro","mode":"MSA","alg":"AScore","k":"l","t":"19","x":2.06,"y":6.46},
{"lab":"TMTpro","mode":"MSA","alg":"AScore","k":"l","t":"30","x":1.04,"y":4.96},
{"lab":"Label-free","mode":"CID","k":"g","x":1,"y":-1,"x2":1,"y2":9.1},
{"lab":"Label-free","mode":"CID","k":"g","x":5,"y":-1,"x2":5,"y2":10.7},
{"lab":"Label-free","mode":"HCD","k":"g","x":1,"y":-1,"x2":1,"y2":9.4},
{"lab":"Label-free","mode":"HCD","k":"g","x":5,"y":-1,"x2":5,"y2":10.5},
{"lab":"Label-free","mode":"HCD","k":"g","x":-1,"y":10,"x2":1.6,"y2":10},
{"lab":"Label-free","mode":"MSA","k":"g","x":1,"y":-1,"x2":1,"y2":10.0},
{"lab":"Label-free","mode":"MSA","k":"g","x":5,"y":-1,"x2":5,"y2":11.9},
{"lab":"TMTpro","mode":"CID","k":"g","x":1,"y":-1,"x2":1,"y2":6.4},
{"lab":"TMTpro","mode":"CID","k":"g","x":5,"y":-1,"x2":5,"y2":7.4},
{"lab":"TMTpro","mode":"HCD","k":"g","x":1,"y":-1,"x2":1,"y2":7.0},
{"lab":"TMTpro","mode":"HCD","k":"g","x":5,"y":-1,"x2":5,"y2":6.8},
{"lab":"TMTpro","mode":"HCD","k":"g","x":-1,"y":7,"x2":0.72,"y2":7},
{"lab":"TMTpro","mode":"MSA","k":"g","x":1,"y":-1,"x2":1,"y2":7.3},
{"lab":"TMTpro","mode":"MSA","k":"g","x":5,"y":-1,"x2":5,"y2":8.6},
{"lab":"Label-free","mode":"HCD","k":"r","x":1.72,"y":10,"x2":4.29,"y2":10},
{"lab":"Label-free","mode":"HCD","k":"r","x":5,"y":10.48,"x2":5,"y2":11.7},
{"lab":"Label-free","mode":"HCD","k":"h","dir":"L","x":1.72,"y":10},
{"lab":"Label-free","mode":"HCD","k":"h","dir":"R","x":4.29,"y":10},
{"lab":"Label-free","mode":"HCD","k":"h","dir":"D","x":5,"y":10.48},
{"lab":"Label-free","mode":"HCD","k":"h","dir":"U","x":5,"y":11.7},
{"lab":"Label-free","mode":"HCD","k":"d","x":4.07,"y":12.7,"x2":4.94,"y2":11.86},
{"lab":"Label-free","mode":"HCD","k":"d","x":4.29,"y":9.71,"x2":4.58,"y2":8.96},
{"lab":"Label-free","mode":"HCD","k":"t","t":"12%","x":3.71,"y":13.27},
{"lab":"Label-free","mode":"HCD","k":"t","t":"2.7%","x":6.03,"y":8.24},
{"lab":"TMTpro","mode":"HCD","k":"r","x":0.72,"y":7,"x2":5.8,"y2":7},
{"lab":"TMTpro","mode":"HCD","k":"r","x":5,"y":6.72,"x2":5,"y2":8.86},
{"lab":"TMTpro","mode":"HCD","k":"h","dir":"L","x":0.72,"y":7},
{"lab":"TMTpro","mode":"HCD","k":"h","dir":"R","x":5.8,"y":7},
{"lab":"TMTpro","mode":"HCD","k":"h","dir":"D","x":5,"y":6.72},
{"lab":"TMTpro","mode":"HCD","k":"h","dir":"U","x":5,"y":8.86},
{"lab":"TMTpro","mode":"HCD","k":"d","x":5.32,"y":9.98,"x2":5.03,"y2":9.24},
{"lab":"TMTpro","mode":"HCD","k":"d","x":5.76,"y":6.7,"x2":6.12,"y2":5.89},
{"lab":"TMTpro","mode":"HCD","k":"t","t":"36%","x":5.4,"y":10.58},
{"lab":"TMTpro","mode":"HCD","k":"t","t":"5.5%","x":7.65,"y":5.09}
]
},
"vconcat": [
{
  "data": {"name": "a"},
  "title": {"text": "a", "anchor": "start", "frame": "bounds", "fontSize": 38, "fontWeight": "bold", "offset": -59, "baseline": "alphabetic", "color": "#000000"},
  "facet": {
    "column": {"field": "lab", "type": "nominal", "sort": ["Label-free", "TMTpro"], "title": "FLR",
      "header": {"labelOrient": "top", "titleOrient": "bottom", "labelFontSize": 34, "labelPadding": -14, "labelBaseline": "bottom", "labelColor": "#000000", "titleFontSize": 34, "titleFontWeight": "normal", "titlePadding": 11, "titleBaseline": "top", "titleColor": "#000000"}},
    "row": {"field": "alg", "type": "nominal", "title": "Phosphorylation sites (×1,000)",
      "header": {"labelOrient": "right", "titleOrient": "left", "labelAngle": 90, "labelFontSize": 34, "labelPadding": -27, "labelBaseline": "bottom", "labelAlign": "center", "labelColor": "#000000", "titleFontSize": 34, "titleFontWeight": "normal", "titleAngle": 270, "titleBaseline": "bottom", "titleAlign": "center", "titlePadding": -15, "titleColor": "#000000"}}
  },
  "spacing": {"column": 11, "row": 12},
  "spec": {
    "width": 573, "height": 501,
    "encoding": {
      "x": {"field": "x", "type": "quantitative", "scale": {"domain": [-0.77, 15.74], "nice": false, "zero": false}, "axis": {"values": [0, 5, 10, 15], "title": null}},
      "y": {"field": "y", "type": "quantitative", "scale": {"domain": [-0.76, 15.72], "nice": false, "zero": false}, "axis": {"values": [0, 5, 10, 15], "title": null}}
    },
    "layer": [
      {"transform": [{"filter": "datum.k === 'p'"}], "mark": {"type": "point", "filled": true, "size": 140, "opacity": 1},
       "encoding": {"color": {"field": "mode", "type": "nominal", "scale": {"domain": ["CID", "HCD", "MSA"], "range": ["#8E3062", "#3F8E45", "#3A2A8F"]},
         "legend": {"orient": "none", "legendX": 343, "legendY": 344, "title": "Collision mode", "direction": "vertical", "symbolType": "M-1,-0.13L1,-0.13L1,0.13L-1,0.13Z M0.56,0A0.56,0.56 0 1,1 -0.56,0A0.56,0.56 0 1,1 0.56,0Z", "symbolSize": 625, "symbolStrokeWidth": 0, "symbolOpacity": 1, "labelFontSize": 34, "labelColor": "#000000", "titleFontSize": 34, "titleFontWeight": "normal", "titleColor": "#000000", "titlePadding": 15, "rowPadding": 1, "labelOffset": 8, "titleAnchor": "middle", "padding": 0, "labelLimit": 0, "titleLimit": 0}}}},
      {"transform": [{"filter": "datum.k === 'g'"}], "mark": {"type": "rule", "color": "#9a9a9a", "strokeWidth": 1.5, "strokeDash": [5, 4], "clip": true},
       "encoding": {"x2": {"field": "x2"}, "y2": {"field": "y2"}}},
      {"transform": [{"filter": "datum.k === 'c'"}], "mark": {"type": "line", "strokeWidth": 3.6, "opacity": 0.9},
       "encoding": {"color": {"field": "mode", "type": "nominal"}, "order": {"field": "i", "type": "quantitative"}}},
      {"transform": [{"filter": "datum.k === 'p'"}], "mark": {"type": "point", "filled": true, "size": 140, "opacity": 1},
       "encoding": {"color": {"field": "mode", "type": "nominal"}}},
      {"transform": [{"filter": "datum.k === 'l'"}], "mark": {"type": "text", "fontSize": 22, "align": "center", "baseline": "middle", "opacity": 0.9},
       "encoding": {"text": {"field": "t"}, "color": {"field": "mode", "type": "nominal"}}},
      {"transform": [{"filter": "datum.k === 'r'"}], "mark": {"type": "rule", "color": "#E8231B", "strokeWidth": 3.2},
       "encoding": {"x2": {"field": "x2"}, "y2": {"field": "y2"}}},
      {"transform": [{"filter": "datum.k === 'h'"}], "mark": {"type": "point", "filled": true, "color": "#E8231B", "size": 100, "opacity": 1},
       "encoding": {"shape": {"field": "dir", "type": "nominal", "scale": {"domain": ["L", "R", "U", "D"], "range": ["M0,0L2.2,-1L2.2,1Z", "M0,0L-2.2,-1L-2.2,1Z", "M0,0L-1,2.2L1,2.2Z", "M0,0L-1,-2.2L1,-2.2Z"]}, "legend": null}}},
      {"transform": [{"filter": "datum.k === 'd'"}], "mark": {"type": "rule", "color": "#E8231B", "strokeWidth": 1.8},
       "encoding": {"x2": {"field": "x2"}, "y2": {"field": "y2"}}},
      {"transform": [{"filter": "datum.k === 't'"}], "mark": {"type": "text", "fontSize": 33, "align": "center", "baseline": "middle", "color": "#E8231B"},
       "encoding": {"text": {"field": "t"}}}
    ]
  }
},
{
  "data": {"name": "b"},
  "title": {"text": "b", "anchor": "start", "frame": "bounds", "fontSize": 38, "fontWeight": "bold", "offset": -48, "baseline": "alphabetic", "color": "#000000"},
  "facet": {
    "column": {"field": "mode", "type": "nominal", "sort": ["CID", "HCD", "MSA"], "title": "FLR",
      "header": {"labelOrient": "top", "titleOrient": "bottom", "labelFontSize": 34, "labelPadding": -23, "labelBaseline": "bottom",
        "labelColor": {"expr": "parent['mode'] === 'CID' ? '#8C1D54' : parent['mode'] === 'HCD' ? '#1F7A30' : '#2A1B84'"},
        "titleFontSize": 34, "titleFontWeight": "normal", "titlePadding": 7, "titleBaseline": "top", "titleColor": "#000000"}},
    "row": {"field": "lab", "type": "nominal", "sort": ["Label-free", "TMTpro"], "title": "Phosphorylation sites (×1,000)",
      "header": {"labelOrient": "right", "titleOrient": "left", "labelAngle": 90, "labelFontSize": 34, "labelPadding": -27, "labelBaseline": "bottom", "labelAlign": "center", "labelColor": "#000000", "titleFontSize": 34, "titleFontWeight": "normal", "titleAngle": 270, "titleBaseline": "bottom", "titleAlign": "center", "titlePadding": -15, "titleColor": "#000000"}}
  },
  "spacing": {"column": 10, "row": 12},
  "spec": {
    "width": 379, "height": 501,
    "encoding": {
      "x": {"field": "x", "type": "quantitative", "scale": {"domain": [-0.77, 15.74], "nice": false, "zero": false}, "axis": {"values": [0, 5, 10, 15], "title": null}},
      "y": {"field": "y", "type": "quantitative", "scale": {"domain": [-0.76, 15.72], "nice": false, "zero": false}, "axis": {"values": [0, 5, 10, 15], "title": null}}
    },
    "layer": [
      {"transform": [{"filter": "datum.k === 'p'"}], "mark": {"type": "point", "filled": true, "size": 140, "opacity": 1},
       "encoding": {"color": {"field": "alg", "type": "nominal", "scale": {"domain": ["AScore", "AScorePro"], "range": ["#E07A3A", "#4A7EC6"]},
         "legend": {"orient": "none", "legendX": 159, "legendY": 383, "title": "Algorithm", "direction": "vertical", "symbolType": "M-1,-0.13L1,-0.13L1,0.13L-1,0.13Z M0.56,0A0.56,0.56 0 1,1 -0.56,0A0.56,0.56 0 1,1 0.56,0Z", "symbolSize": 700, "symbolStrokeWidth": 0, "symbolOpacity": 1, "labelFontSize": 34, "labelColor": "#000000", "titleFontSize": 34, "titleFontWeight": "normal", "titleColor": "#000000", "titlePadding": 15, "rowPadding": 3, "labelOffset": 10, "titleAnchor": "start", "padding": 0, "labelLimit": 0, "titleLimit": 0}}}},
      {"transform": [{"filter": "datum.k === 'g'"}], "mark": {"type": "rule", "color": "#9a9a9a", "strokeWidth": 1.5, "strokeDash": [5, 4], "clip": true},
       "encoding": {"x2": {"field": "x2"}, "y2": {"field": "y2"}}},
      {"transform": [{"filter": "datum.k === 'c'"}], "mark": {"type": "line", "strokeWidth": 3.6, "opacity": 0.9},
       "encoding": {"color": {"field": "alg", "type": "nominal"}, "order": {"field": "i", "type": "quantitative"}}},
      {"transform": [{"filter": "datum.k === 'p'"}], "mark": {"type": "point", "filled": true, "size": 140, "opacity": 1},
       "encoding": {"color": {"field": "alg", "type": "nominal"}}},
      {"transform": [{"filter": "datum.k === 'l'"}], "mark": {"type": "text", "fontSize": 22, "align": "center", "baseline": "middle", "opacity": 0.9},
       "encoding": {"text": {"field": "t"}, "color": {"field": "alg", "type": "nominal"}}},
      {"transform": [{"filter": "datum.k === 'r'"}], "mark": {"type": "rule", "color": "#E8231B", "strokeWidth": 3.2},
       "encoding": {"x2": {"field": "x2"}, "y2": {"field": "y2"}}},
      {"transform": [{"filter": "datum.k === 'h'"}], "mark": {"type": "point", "filled": true, "color": "#E8231B", "size": 100, "opacity": 1},
       "encoding": {"shape": {"field": "dir", "type": "nominal", "scale": {"domain": ["L", "R", "U", "D"], "range": ["M0,0L2.2,-1L2.2,1Z", "M0,0L-2.2,-1L-2.2,1Z", "M0,0L-1,2.2L1,2.2Z", "M0,0L-1,-2.2L1,-2.2Z"]}, "legend": null}}},
      {"transform": [{"filter": "datum.k === 'd'"}], "mark": {"type": "rule", "color": "#E8231B", "strokeWidth": 1.8},
       "encoding": {"x2": {"field": "x2"}, "y2": {"field": "y2"}}},
      {"transform": [{"filter": "datum.k === 't'"}], "mark": {"type": "text", "fontSize": 33, "align": "center", "baseline": "middle", "color": "#E8231B"},
       "encoding": {"text": {"field": "t"}}}
    ]
  }
}
],
"spacing": 47,
"resolve": {"scale": {"color": "independent"}, "legend": {"color": "independent"}}
}
